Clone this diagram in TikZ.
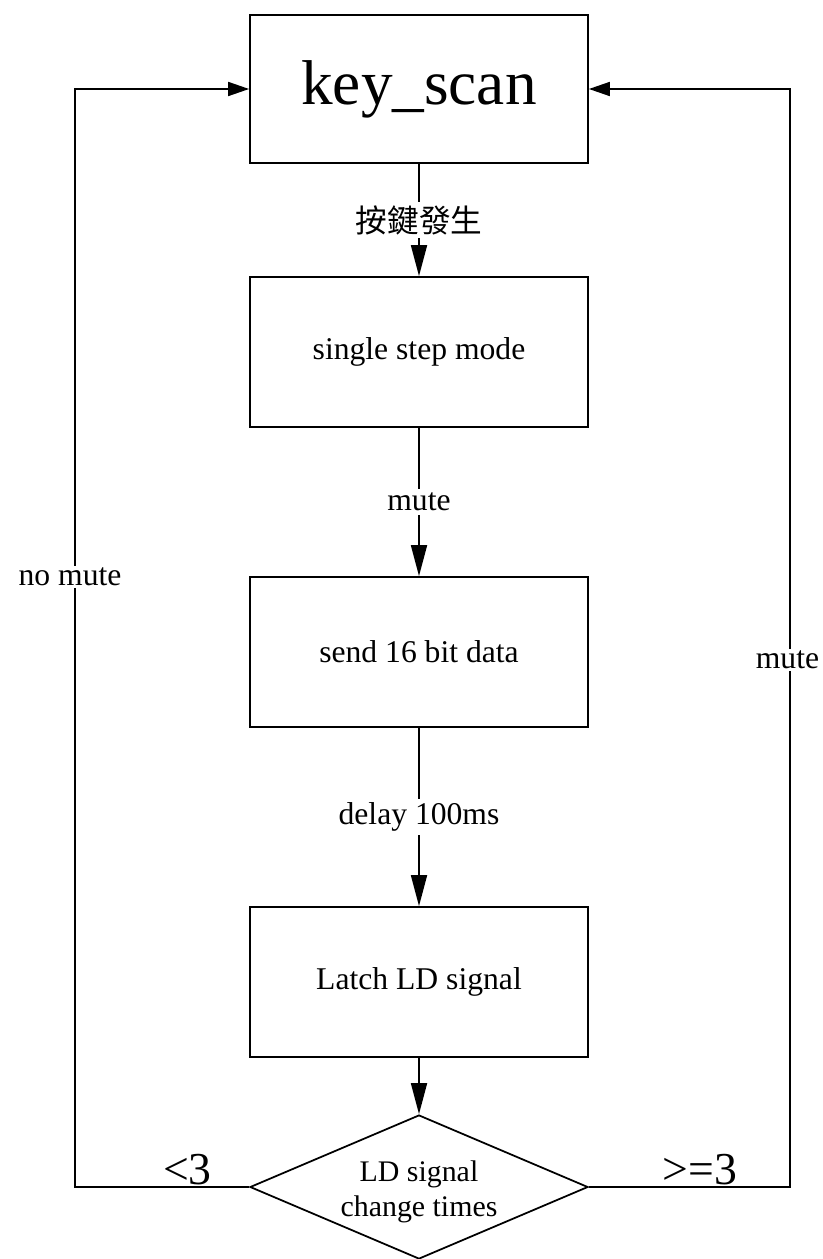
\documentclass[tikz,border=0pt]{standalone}
\usepackage{fontspec}
\setmainfont{Liberation Serif}
\newfontfamily\cjk{Noto Sans CJK TC}
\usetikzlibrary{arrows.meta,shapes.geometric}

\tikzset{
    blk/.style={draw,line width=1pt,minimum width=6.76cm,minimum height=3cm,font=\fontsize{18}{20}\selectfont},
    lbl/.style={fill=white,inner sep=2pt,font=\fontsize{18}{20}\selectfont},
    down/.style={line width=1pt,-{Triangle[length=0.62cm,width=0.32cm]}},
    back/.style={line width=1pt,-{Triangle[length=0.42cm,width=0.28cm]}}
}

\begin{document}
\begin{tikzpicture}
                \useasboundingbox (0,0) rectangle (16.44,-25.18);

                % the boxes of the loop
                \node[blk,minimum height=2.96cm,font=\fontsize{36}{40}\selectfont] (key) at (8.38,-1.78) {key\_scan};
                \node[blk] (mode) at (8.38,-7.04) {single step mode};
                \node[blk] (data) at (8.38,-13.04) {send 16 bit data};
                \node[blk] (latch) at (8.38,-19.64) {Latch LD signal};
                \node[draw,line width=1pt,diamond,inner sep=0pt,minimum width=6.76cm,minimum height=2.88cm] (chk) at (8.38,-23.74) {};
                \node[align=center,font=\fontsize{17}{20}\selectfont] (chktext) at ([yshift=-0.1cm]chk.center) {LD signal\\change times};

                \draw[down] (key) -- node[lbl] {\cjk 按鍵發生} (mode);
                \draw[down] (mode) -- node[lbl] {mute} (data);
                \draw[down] (data) -- node[lbl] {delay 100ms} (latch);
                \draw[down] (latch) -- (chk);

                % the two ways back to key_scan
                \coordinate (lc) at (1.5,-23.74);
                \coordinate (rc) at (15.8,-23.74);
                \draw[back] (chk.west) -- (lc) |- (key.west);
                \draw[back] (chk.east) -- (rc) |- (key.east);

                \node[lbl,inner sep=1pt] (nomute) at (1.4,-11.54) {no mute};
                \node[lbl,inner sep=1pt] (mute) at (15.75,-13.2) {mute};
                \node[above,inner sep=1pt,font=\fontsize{26}{28}\selectfont] (lt) at (3.75,-23.74) {<3};
                \node[above,inner sep=1pt,font=\fontsize{26}{28}\selectfont] (ge) at (14.0,-23.74) {>=3};

            \end{tikzpicture}
\end{document}
